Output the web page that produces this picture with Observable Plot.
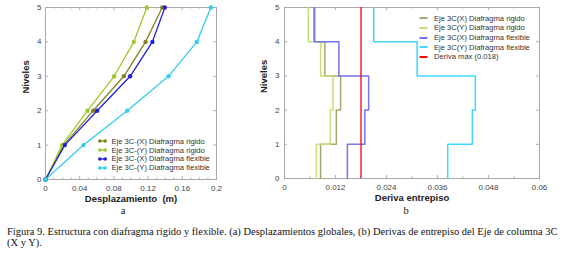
<!DOCTYPE html>
<html><head><meta charset="utf-8">
<script src="https://cdn.jsdelivr.net/npm/d3@7"></script>
<script src="https://cdn.jsdelivr.net/npm/@observablehq/plot@0.6"></script>
<style>
body{margin:0;background:#fff;}
#wrap{position:relative;width:580px;height:263px;overflow:hidden;font-family:"Liberation Sans",Arial,sans-serif;}
.chart{position:absolute;top:0;}
.row{position:absolute;height:10px;display:flex;align-items:center;font-size:7.6px;color:#333;white-space:nowrap;}
.cap{position:absolute;left:7px;top:226px;font-family:"Liberation Serif","Times New Roman",serif;font-size:10.5px;line-height:11px;color:#111;white-space:nowrap;}
</style></head>
<body><div id="wrap"></div>
<script>
// ---- data (a): displacements per level ----
const niveles = [0, 1, 2, 3, 4, 5];
const despXRigido = [0, 0.0214, 0.0557, 0.0916, 0.117, 0.1365];
const despYRigido = [0, 0.0195, 0.0491, 0.0803, 0.1033, 0.1185];
const despXFlex   = [0, 0.0226, 0.0604, 0.099, 0.125, 0.1396];
const despYFlex   = [0, 0.0444, 0.0955, 0.1439, 0.177, 0.1934];
const seriesA = ["Eje 3C-(X) Diafragma rigido", "Eje 3C-(Y) Diafragma rigido", "Eje 3C-(X) Diafragma flexible", "Eje 3C-(Y) Diafragma flexible"];
const colorsA = ["#84841f", "#9fc82a", "#2020dc", "#35cdef"];
const ticksXA = [0, 0.04, 0.08, 0.12, 0.16, 0.2];
const minorXA = [0.01,0.02,0.03,0.05,0.06,0.07,0.09,0.1,0.11,0.13,0.14,0.15,0.17,0.18,0.19];

// ---- data (b): interstory drift per story ----
const pisos = [1, 2, 3, 4, 5];
const derivaXRigido = [0.0085, 0.0122, 0.0132, 0.0095, 0.0069];
const derivaYRigido = [0.0075, 0.0108, 0.0114, 0.0085, 0.0056];
const derivaXFlex   = [0.0148, 0.0189, 0.0198, 0.0128, 0.0071];
const derivaYFlex   = [0.0384, 0.0442, 0.0449, 0.0312, 0.0210];
const derivaMax = 0.018;
const seriesB = ["Eje 3C(X) Diafragma rigido", "Eje 3C(Y) Diafragma rigido", "Eje 3C(X) Diafragma flexible", "Eje 3C(Y) Diafragma flexible", "Deriva máx (0.018)"];
const colorsB = ["#aaa475", "#c6df78", "#7474ee", "#3fd7fc", "#ff0000"];
const ticksXB = [0, 0.012, 0.024, 0.036, 0.048, 0.06];
const minorXB = [0.006, 0.018, 0.03, 0.042, 0.054];
const ticksY = [0, 1, 2, 3, 4, 5];

const fmt = d => d === 0 ? "0" : String(+d.toFixed(3));
const wrap = document.getElementById("wrap");
const baseStyle = {fontFamily: "'Liberation Sans', Arial, sans-serif", fontSize: "8px", color: "#444", background: "transparent", overflow: "visible"};
const tickCol = "#b0b0b0";

function tickMarks(major, minor, fw, fh) {
  return [
    Plot.ruleX(major, {x: d => d, insetTop: fh - 3, stroke: tickCol}),
    Plot.ruleX(major, {x: d => d, insetBottom: fh - 3, stroke: tickCol}),
    Plot.ruleX(minor, {x: d => d, insetTop: fh - 1.6, stroke: tickCol}),
    Plot.ruleX(minor, {x: d => d, insetBottom: fh - 1.6, stroke: tickCol}),
    Plot.ruleY(ticksY, {y: d => d, insetRight: fw - 3, stroke: tickCol}),
    Plot.ruleY(ticksY, {y: d => d, insetLeft: fw - 3, stroke: tickCol})
  ];
}

// ---- chart (a) ----
const dataA = [despXRigido, despYRigido, despXFlex, despYFlex].flatMap((arr, k) =>
  arr.map((v, i) => ({x: v, y: niveles[i], s: seriesA[k]})));
const wA = 290, hA = 222, mlA = 45, mrA = 74, mtA = 7, mbA = 43;
const chartA = Plot.plot({
  width: wA, height: hA, marginLeft: mlA, marginRight: mrA, marginTop: mtA, marginBottom: mbA,
  style: baseStyle,
  x: {domain: [0, 0.2], label: null},
  y: {domain: [0, 5], label: null},
  color: {domain: seriesA, range: colorsA},
  marks: [
    ...tickMarks(ticksXA, minorXA, wA - mlA - mrA, hA - mtA - mbA),
    Plot.frame({stroke: "#a8a8a8"}),
    Plot.axisX({ticks: ticksXA, tickFormat: fmt, tickSize: 0, tickPadding: 6, label: null, fill: "#444"}),
    Plot.axisY({ticks: ticksY, tickFormat: d => d, tickSize: 0, tickPadding: 4, label: null, fill: "#444"}),
    Plot.line(dataA, {x: "x", y: "y", z: "s", stroke: "s", strokeWidth: 1.3}),
    Plot.dot(dataA, {x: "x", y: "y", fill: "s", r: 2.2}),
    Plot.text(["Niveles"], {frameAnchor: "left", dx: -20, rotate: -90, fontWeight: "bold", fontSize: 9.5, fill: "#222"}),
    Plot.text(["Desplazamiento\u00a0 (m)"], {frameAnchor: "bottom", dy: 22, fontWeight: "bold", fontSize: 9.5, fill: "#222"}),
    Plot.text(["a"], {frameAnchor: "bottom", dx: -8, dy: 34, fontFamily: "'Liberation Serif', serif", fontSize: 10.5, fill: "#111"})
  ]
});
chartA.classList.add("chart");
chartA.style.left = "0px";
wrap.appendChild(chartA);

// ---- chart (b) ----
const stairs = (arr, name) => pisos.flatMap((p, i) => [{x: arr[i], y: p - 1, s: name}, {x: arr[i], y: p, s: name}]);
const dataB = [derivaXRigido, derivaYRigido, derivaXFlex, derivaYFlex].flatMap((arr, k) => stairs(arr, seriesB[k]));
const wB = 340, hB = 222, mlB = 44, mrB = 41, mtB = 7, mbB = 44;
const chartB = Plot.plot({
  width: wB, height: hB, marginLeft: mlB, marginRight: mrB, marginTop: mtB, marginBottom: mbB,
  style: baseStyle,
  x: {domain: [0, 0.06], label: null},
  y: {domain: [0, 5], label: null},
  color: {domain: seriesB, range: colorsB},
  marks: [
    ...tickMarks(ticksXB, minorXB, wB - mlB - mrB, hB - mtB - mbB),
    Plot.frame({stroke: "#a8a8a8"}),
    Plot.axisX({ticks: ticksXB, tickFormat: fmt, tickSize: 0, tickPadding: 6, label: null, fill: "#444"}),
    Plot.axisY({ticks: ticksY, tickFormat: d => d, tickSize: 0, tickPadding: 5, label: null, fill: "#444"}),
    Plot.line(dataB, {x: "x", y: "y", z: "s", stroke: "s", strokeWidth: 1.5}),
    Plot.ruleX([derivaMax], {x: d => d, stroke: colorsB[4], strokeWidth: 1.3}),
    Plot.text(["Niveles"], {frameAnchor: "left", dx: -21, rotate: -90, fontWeight: "bold", fontSize: 9.5, fill: "#222"}),
    Plot.text(["Deriva entrepiso"], {frameAnchor: "bottom", dy: 22, fontWeight: "bold", fontSize: 9.5, fill: "#222"}),
    Plot.text(["b"], {frameAnchor: "bottom", dx: -6, dy: 35, fontFamily: "'Liberation Serif', serif", fontSize: 10.5, fill: "#111"})
  ]
});
chartB.classList.add("chart");
chartB.style.left = "240px";
wrap.appendChild(chartB);

// ---- legends ----
function legendRow(left, center, label, color, dots, gap) {
  const row = document.createElement("div");
  row.className = "row";
  row.style.left = left + "px";
  row.style.top = (center - 5) + "px";
  const sw = dots
    ? `<svg width="9" height="10"><line x1="1" x2="8" y1="5" y2="5" stroke="${color}" stroke-width="1.3"/><circle cx="1.8" cy="5" r="1.8" fill="${color}"/><circle cx="7.2" cy="5" r="1.8" fill="${color}"/></svg>`
    : `<svg width="9" height="10"><line x1="0.5" x2="8.5" y1="5" y2="5" stroke="${color}" stroke-width="2"/></svg>`;
  row.innerHTML = sw + `<span style="margin-left:${gap}px">${label}</span>`;
  wrap.appendChild(row);
}
seriesA.forEach((s, i) => legendRow(98, 141.2 + i * 8.8, s, colorsA[i], true, 4.5));
seriesB.forEach((s, i) => legendRow(418.5, 18.3 + i * 9.6, s, colorsB[i], false, 6.5));

// ---- caption ----
const cap = document.createElement("div");
cap.className = "cap";
cap.innerHTML = "Figura 9. Estructura con diafragma rigido y flexible. (a) Desplazamientos globales, (b) Derivas de entrepiso del Eje de columna 3C<br>(X y Y).";
wrap.appendChild(cap);
</script>
</body></html>
